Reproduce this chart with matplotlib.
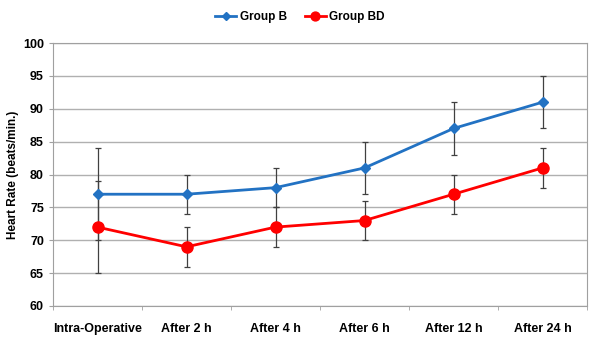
import matplotlib.pyplot as plt
import numpy as np

categories = ['Intra-Operative', 'After 2 h', 'After 4 h', 'After 6 h', 'After 12 h', 'After 24 h']
group_b = [77, 77, 78, 81, 87, 91]
group_b_err = [7, 3, 3, 4, 4, 4]
group_bd = [72, 69, 72, 73, 77, 81]
group_bd_err = [7, 3, 3, 3, 3, 3]

plt.rcParams['font.family'] = ['Liberation Sans', 'DejaVu Sans']
fig = plt.figure(figsize=(6, 3.41), dpi=100)
ax = fig.add_axes([53/600, 35/341, 534/600, 263/341])

x = np.arange(len(categories))
ax.errorbar(x, group_b, yerr=group_b_err, fmt='none', ecolor='#404040',
            elinewidth=0.9, capsize=2.5, capthick=0.9, zorder=2)
ax.errorbar(x, group_bd, yerr=group_bd_err, fmt='none', ecolor='#404040',
            elinewidth=0.9, capsize=2.5, capthick=0.9, zorder=2)
ax.plot(x, group_b, color='#2272C3', lw=2, marker='D', ms=5, label='Group B', zorder=3)
ax.plot(x, group_bd, color='#FF0000', lw=2, marker='o', ms=8, label='Group BD', zorder=3)

ax.set_xlim(-0.5, len(categories) - 0.5)
ax.set_ylim(60, 100)
ax.set_yticks(range(60, 101, 5))
ax.set_xticks(x)
ax.set_xticklabels(categories, fontsize=9, fontweight='bold')
ax.set_xticks(np.arange(-0.5, len(categories)), minor=True)
ax.tick_params(axis='x', which='major', length=0, pad=12)
ax.tick_params(axis='x', which='minor', length=3, color='#a0a0a0')
ax.tick_params(axis='y', length=3, color='#a0a0a0', labelsize=9)
for lab in ax.get_yticklabels():
    lab.set_fontweight('bold')
ax.yaxis.grid(True, color='#b0b0b0', lw=1)
ax.set_axisbelow(True)
for s in ax.spines.values():
    s.set_color('#a0a0a0')
ax.set_ylabel('Heart Rate (beats/min.)', fontsize=8.5, fontweight='bold', labelpad=3)

fig.legend(loc='center', bbox_to_anchor=(0.5, 1 - 17/341), ncol=2, frameon=False,
           prop={'size': 8.5, 'weight': 'bold'}, handlelength=1.8, columnspacing=1.5,
           handletextpad=0.3, markerscale=0.8)

fig.savefig('out.png', dpi=100)
